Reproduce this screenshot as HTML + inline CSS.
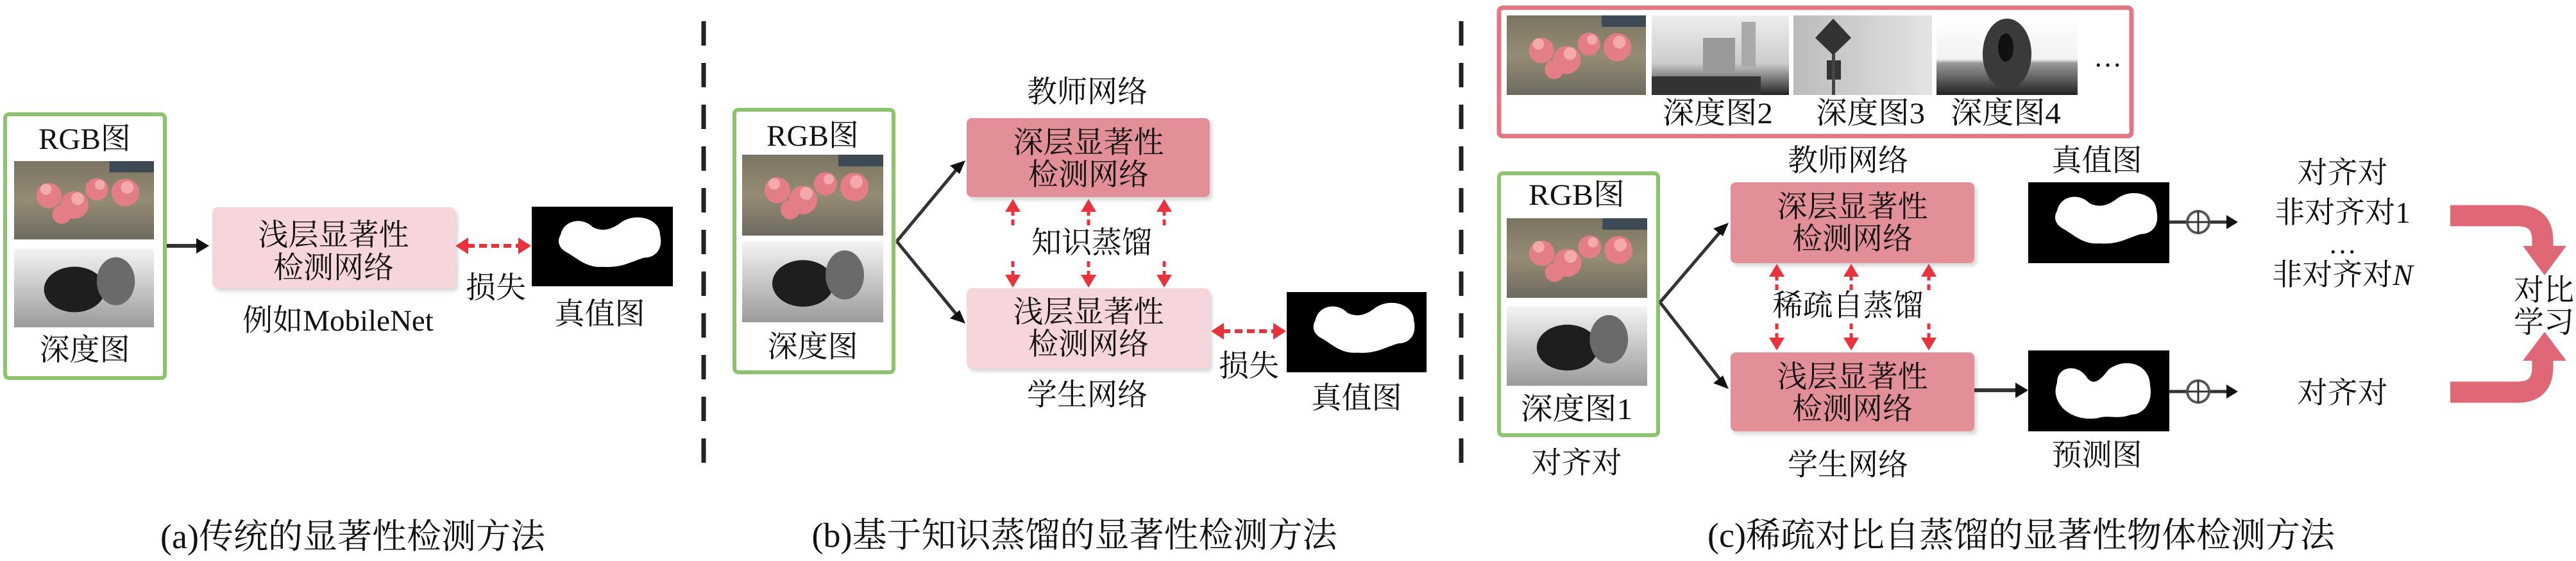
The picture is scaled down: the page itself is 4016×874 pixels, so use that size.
<!DOCTYPE html>
<html><head><meta charset="utf-8"><style>
html,body{margin:0;padding:0;background:#fff;}
svg{display:block;}
text{font-family:"Liberation Serif","Noto Serif CJK SC",serif;fill:#111;}
</style></head><body>
<svg width="4016" height="874" viewBox="0 0 4016 874" xmlns="http://www.w3.org/2000/svg">
<defs>
<linearGradient id="dg" x1="0" y1="0" x2="0" y2="1"><stop offset="0" stop-color="#f4f4f4"/><stop offset="1" stop-color="#9a9a9a"/></linearGradient>
<linearGradient id="fg" x1="0" y1="0" x2="0" y2="1"><stop offset="0" stop-color="#7a7462"/><stop offset="0.5" stop-color="#958c74"/><stop offset="1" stop-color="#6e6a60"/></linearGradient>
<linearGradient id="d2" x1="0" y1="0" x2="0" y2="1"><stop offset="0" stop-color="#eee"/><stop offset="0.6" stop-color="#ccc"/><stop offset="1" stop-color="#222"/></linearGradient>
<linearGradient id="d3" x1="0" y1="0" x2="1" y2="0"><stop offset="0" stop-color="#bbb"/><stop offset="1" stop-color="#e4e4e4"/></linearGradient>
<linearGradient id="d4" x1="0" y1="0" x2="0" y2="1"><stop offset="0" stop-color="#fff"/><stop offset="0.55" stop-color="#f2f2f2"/><stop offset="0.6" stop-color="#999"/><stop offset="1" stop-color="#222"/></linearGradient>
<filter id="sh" x="-5%" y="-10%" width="115%" height="130%"><feDropShadow dx="4" dy="5" stdDeviation="3" flood-color="#000" flood-opacity="0.15"/></filter>
<symbol id="flower" viewBox="0 0 220 125" preserveAspectRatio="none">
<rect width="220" height="125" fill="url(#fg)"/>
<rect x="150" y="0" width="70" height="18" fill="#3d4a55"/>
<g fill="#e47e86"><circle cx="55" cy="55" r="20"/><circle cx="95" cy="70" r="22"/><circle cx="130" cy="45" r="18"/><circle cx="175" cy="50" r="22"/><circle cx="75" cy="85" r="15"/></g>
<g fill="#f4a9ad"><circle cx="50" cy="45" r="9"/><circle cx="100" cy="60" r="10"/><circle cx="178" cy="42" r="10"/><circle cx="135" cy="38" r="8"/></g>
</symbol>
<symbol id="depth" viewBox="0 0 220 125" preserveAspectRatio="none">
<rect width="220" height="125" fill="url(#dg)"/>
<ellipse cx="95" cy="65" rx="48" ry="36" fill="#1e1e1e"/>
<ellipse cx="160" cy="52" rx="30" ry="38" fill="#6a6a6a"/>
</symbol>
<symbol id="truth" viewBox="0 0 220 156" preserveAspectRatio="none">
<rect width="220" height="156" fill="#000"/>
<path d="M45,55 C50,25 80,20 95,40 C110,50 125,45 140,30 C165,10 200,25 200,55 C205,80 195,100 175,100 C150,110 140,120 110,118 C85,120 70,100 55,90 C40,80 40,65 45,55 Z" fill="#fff"/>
</symbol>
<symbol id="pred" viewBox="0 0 220 126" preserveAspectRatio="none">
<rect width="220" height="126" fill="#000"/>
<path d="M45,50 C45,25 75,20 90,40 C100,55 110,50 125,30 C150,10 190,20 190,55 C195,80 180,100 160,100 C140,108 125,100 110,105 C85,110 60,100 50,85 C40,70 42,60 45,50 Z" fill="#fff"/>
</symbol>
</defs>

<line x1="1097" y1="33" x2="1097" y2="725" stroke="#222" stroke-width="7" stroke-dasharray="38 27"/>
<line x1="2278" y1="33" x2="2278" y2="725" stroke="#222" stroke-width="7" stroke-dasharray="38 27"/>

<!-- ===== Panel a ===== -->
<rect x="8" y="178" width="249" height="411" rx="6" fill="#fff" stroke="#8cc46e" stroke-width="6"/>
<text x="132" y="217" font-size="47" text-anchor="middle" dominant-baseline="central">RGB图</text>
<use href="#flower" x="22" y="251" width="218" height="122"/>
<use href="#depth" x="22" y="387" width="218" height="123"/>
<text x="132" y="546" font-size="47" text-anchor="middle" dominant-baseline="central">深度图</text>
<line x1="260" y1="383" x2="312" y2="383" stroke="#333" stroke-width="6"/>
<polygon points="326,383 306,371 306,395" fill="#111"/>
<rect x="331" y="323" width="379" height="126" rx="8" fill="#f6d6da" filter="url(#sh)"/>
<text x="520" y="367" font-size="47" text-anchor="middle" dominant-baseline="central">浅层显著性</text>
<text x="520" y="418" font-size="47" text-anchor="middle" dominant-baseline="central">检测网络</text>
<text x="527" y="500" font-size="47" text-anchor="middle" dominant-baseline="central">例如MobileNet</text>
<line x1="728" y1="383" x2="810" y2="383" stroke="#e8323c" stroke-width="6" stroke-dasharray="12 7"/>
<polygon points="710,383 730,370 730,396" fill="#e8323c"/>
<polygon points="828,383 808,370 808,396" fill="#e8323c"/>
<text x="773" y="449" font-size="47" text-anchor="middle" dominant-baseline="central">损失</text>
<use href="#truth" x="829" y="322" width="220" height="124"/>
<text x="935" y="490" font-size="47" text-anchor="middle" dominant-baseline="central">真值图</text>
<text x="550" y="836" font-size="54" text-anchor="middle" dominant-baseline="central">(a)传统的显著性检测方法</text>

<!-- ===== Panel b ===== -->
<rect x="1145" y="171" width="248" height="409" rx="6" fill="#fff" stroke="#8cc46e" stroke-width="6"/>
<text x="1267" y="212" font-size="47" text-anchor="middle" dominant-baseline="central">RGB图</text>
<use href="#flower" x="1157" y="241" width="220" height="126"/>
<use href="#depth" x="1157" y="376" width="220" height="126"/>
<text x="1267" y="541" font-size="47" text-anchor="middle" dominant-baseline="central">深度图</text>
<text x="1695" y="144" font-size="47" text-anchor="middle" dominant-baseline="central">教师网络</text>
<rect x="1507" y="184" width="379" height="123" rx="8" fill="#e38f98" filter="url(#sh)"/>
<text x="1697" y="223" font-size="47" text-anchor="middle" dominant-baseline="central">深层显著性</text>
<text x="1697" y="273" font-size="47" text-anchor="middle" dominant-baseline="central">检测网络</text>
<rect x="1507" y="449" width="379" height="125" rx="8" fill="#f6d6da" filter="url(#sh)"/>
<text x="1697" y="487" font-size="47" text-anchor="middle" dominant-baseline="central">浅层显著性</text>
<text x="1697" y="537" font-size="47" text-anchor="middle" dominant-baseline="central">检测网络</text>
<text x="1695" y="616" font-size="47" text-anchor="middle" dominant-baseline="central">学生网络</text>
<line x1="1398" y1="376" x2="1493" y2="262" stroke="#333" stroke-width="5"/>
<polygon points="1505,250 1481,258 1496,271" fill="#111"/>
<line x1="1398" y1="376" x2="1493" y2="492" stroke="#333" stroke-width="5"/>
<polygon points="1505,504 1481,496 1496,483" fill="#111"/>
<g stroke="#e8323c" stroke-width="5" stroke-dasharray="9 6">
<line x1="1579" y1="351" x2="1579" y2="322"/><line x1="1697" y1="351" x2="1697" y2="322"/><line x1="1815" y1="351" x2="1815" y2="322"/>
<line x1="1579" y1="407" x2="1579" y2="436"/><line x1="1697" y1="407" x2="1697" y2="436"/><line x1="1815" y1="407" x2="1815" y2="436"/>
</g>
<g fill="#e8323c">
<polygon points="1579,310 1567,330 1591,330"/><polygon points="1697,310 1685,330 1709,330"/><polygon points="1815,310 1803,330 1827,330"/>
<polygon points="1579,448 1567,428 1591,428"/><polygon points="1697,448 1685,428 1709,428"/><polygon points="1815,448 1803,428 1827,428"/>
</g>
<text x="1702" y="379" font-size="47" text-anchor="middle" dominant-baseline="central">知识蒸馏</text>
<line x1="1906" y1="516" x2="1988" y2="516" stroke="#e8323c" stroke-width="6" stroke-dasharray="12 7"/>
<polygon points="1888,516 1908,503 1908,529" fill="#e8323c"/>
<polygon points="2005,516 1985,503 1985,529" fill="#e8323c"/>
<text x="1947" y="571" font-size="47" text-anchor="middle" dominant-baseline="central">损失</text>
<use href="#truth" x="2006" y="455" width="218" height="125"/>
<text x="2115" y="621" font-size="47" text-anchor="middle" dominant-baseline="central">真值图</text>
<text x="1675" y="834" font-size="54" text-anchor="middle" dominant-baseline="central">(b)基于知识蒸馏的显著性检测方法</text>

<!-- ===== Panel c ===== -->
<rect x="2337" y="12" width="986" height="200" rx="6" fill="#fff" stroke="#e07884" stroke-width="7"/>
<use href="#flower" x="2349" y="24" width="217" height="124"/>
<svg x="2575" y="24" width="214" height="124" viewBox="0 0 214 124" preserveAspectRatio="none">
<rect width="214" height="124" fill="url(#d2)"/><rect x="80" y="35" width="50" height="55" fill="#999"/><rect x="140" y="10" width="22" height="70" fill="#aaa"/><rect x="0" y="95" width="170" height="29" fill="#333"/></svg>
<svg x="2796" y="24" width="216" height="124" viewBox="0 0 216 124" preserveAspectRatio="none">
<rect width="216" height="124" fill="url(#d3)"/><polygon points="62,5 90,35 62,62 34,35" fill="#333"/><rect x="52" y="70" width="22" height="30" fill="#333"/><rect x="60" y="60" width="5" height="64" fill="#444"/></svg>
<svg x="3019" y="24" width="220" height="124" viewBox="0 0 220 124" preserveAspectRatio="none">
<rect width="220" height="124" fill="url(#d4)"/><ellipse cx="110" cy="60" rx="38" ry="55" fill="#3a3a3a"/><ellipse cx="108" cy="50" rx="12" ry="22" fill="#111"/></svg>
<text x="3286" y="89" font-size="44" text-anchor="middle" dominant-baseline="central">…</text>
<text x="2678" y="177" font-size="47" text-anchor="middle" dominant-baseline="central" textLength="172" lengthAdjust="spacingAndGlyphs">深度图2</text>
<text x="2916" y="177" font-size="47" text-anchor="middle" dominant-baseline="central" textLength="170" lengthAdjust="spacingAndGlyphs">深度图3</text>
<text x="3127" y="177" font-size="47" text-anchor="middle" dominant-baseline="central" textLength="172" lengthAdjust="spacingAndGlyphs">深度图4</text>

<rect x="2337" y="270" width="248" height="408" rx="6" fill="#fff" stroke="#8cc46e" stroke-width="6"/>
<text x="2458" y="304" font-size="47" text-anchor="middle" dominant-baseline="central" textLength="150" lengthAdjust="spacingAndGlyphs">RGB图</text>
<use href="#flower" x="2349" y="340" width="219" height="124"/>
<use href="#depth" x="2349" y="477" width="219" height="124"/>
<text x="2458" y="638" font-size="47" text-anchor="middle" dominant-baseline="central" textLength="175" lengthAdjust="spacingAndGlyphs">深度图1</text>
<text x="2458" y="722" font-size="47" text-anchor="middle" dominant-baseline="central">对齐对</text>

<text x="2881" y="251" font-size="47" text-anchor="middle" dominant-baseline="central">教师网络</text>
<rect x="2698" y="284" width="380" height="126" rx="8" fill="#e38f98" filter="url(#sh)"/>
<text x="2888" y="323" font-size="47" text-anchor="middle" dominant-baseline="central">深层显著性</text>
<text x="2888" y="373" font-size="47" text-anchor="middle" dominant-baseline="central">检测网络</text>
<rect x="2698" y="549" width="380" height="123" rx="8" fill="#e38f98" filter="url(#sh)"/>
<text x="2888" y="588" font-size="47" text-anchor="middle" dominant-baseline="central">浅层显著性</text>
<text x="2888" y="638" font-size="47" text-anchor="middle" dominant-baseline="central">检测网络</text>
<text x="2881" y="725" font-size="47" text-anchor="middle" dominant-baseline="central">学生网络</text>
<line x1="2588" y1="471" x2="2683" y2="360" stroke="#333" stroke-width="5"/>
<polygon points="2695,347 2671,356 2686,368" fill="#111"/>
<line x1="2588" y1="471" x2="2683" y2="593" stroke="#333" stroke-width="5"/>
<polygon points="2695,606 2671,597 2686,585" fill="#111"/>
<g stroke="#e8323c" stroke-width="5" stroke-dasharray="9 6">
<line x1="2770" y1="452" x2="2770" y2="424"/><line x1="2886" y1="452" x2="2886" y2="424"/><line x1="3007" y1="452" x2="3007" y2="424"/>
<line x1="2770" y1="504" x2="2770" y2="532"/><line x1="2886" y1="504" x2="2886" y2="532"/><line x1="3007" y1="504" x2="3007" y2="532"/>
</g>
<g fill="#e8323c">
<polygon points="2770,411 2758,431 2782,431"/><polygon points="2886,411 2874,431 2898,431"/><polygon points="3007,411 2995,431 3019,431"/>
<polygon points="2770,546 2758,526 2782,526"/><polygon points="2886,546 2874,526 2898,526"/><polygon points="3007,546 2995,526 3019,526"/>
</g>
<text x="2881" y="477" font-size="47" text-anchor="middle" dominant-baseline="central">稀疏自蒸馏</text>

<text x="3269" y="251" font-size="47" text-anchor="middle" dominant-baseline="central">真值图</text>
<use href="#truth" x="3162" y="284" width="220" height="126"/>
<use href="#pred" x="3162" y="546" width="220" height="126"/>
<text x="3269" y="710" font-size="47" text-anchor="middle" dominant-baseline="central">预测图</text>
<line x1="3078" y1="608" x2="3150" y2="608" stroke="#333" stroke-width="6"/>
<polygon points="3162,608 3142,596 3142,620" fill="#111"/>

<g stroke="#333" stroke-width="5" fill="none">
<line x1="3382" y1="346" x2="3475" y2="346"/><line x1="3382" y1="610" x2="3475" y2="610"/>
</g>
<g stroke="#555" stroke-width="4" fill="#fff">
<circle cx="3427" cy="346" r="17"/><circle cx="3427" cy="610" r="17"/>
</g>
<g stroke="#333" stroke-width="3">
<line x1="3410" y1="346" x2="3444" y2="346"/><line x1="3427" y1="329" x2="3427" y2="363"/>
<line x1="3410" y1="610" x2="3444" y2="610"/><line x1="3427" y1="593" x2="3427" y2="627"/>
</g>
<polygon points="3489,346 3471,335 3471,357" fill="#111"/>
<polygon points="3489,610 3471,599 3471,621" fill="#111"/>

<text x="3652" y="270" font-size="47" text-anchor="middle" dominant-baseline="central">对齐对</text>
<text x="3652" y="332" font-size="47" text-anchor="middle" dominant-baseline="central">非对齐对1</text>
<text x="3652" y="380" font-size="44" text-anchor="middle" dominant-baseline="central">…</text>
<text x="3652" y="429" font-size="47" text-anchor="middle" dominant-baseline="central">非对齐对<tspan font-style="italic">N</tspan></text>
<text x="3652" y="613" font-size="47" text-anchor="middle" dominant-baseline="central">对齐对</text>

<g fill="none" stroke="#df6877" stroke-width="33">
<path d="M3820,336 L3925,336 Q3964,336 3964,375 L3964,390"/>
<path d="M3820,611 L3925,611 Q3964,611 3964,572 L3964,557"/>
</g>
<polygon points="3933,383 4001,383 3967,429" fill="#df6877"/>
<polygon points="3933,562 4001,562 3967,517" fill="#df6877"/>
<text x="3966" y="453" font-size="47" text-anchor="middle" dominant-baseline="central">对比</text>
<text x="3966" y="503" font-size="47" text-anchor="middle" dominant-baseline="central">学习</text>

<text x="3151" y="834" font-size="54" text-anchor="middle" dominant-baseline="central">(c)稀疏对比自蒸馏的显著性物体检测方法</text>
</svg>
</body></html>
